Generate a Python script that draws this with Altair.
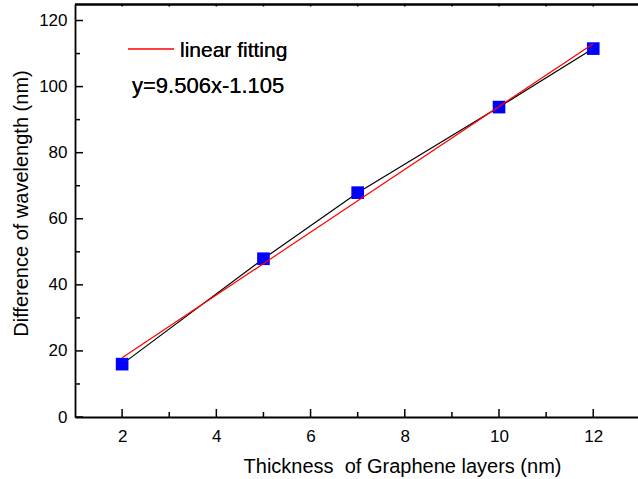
import altair as alt
import pandas as pd

# Data
thickness = [2, 5, 7, 10, 12]
difference = [16.0, 47.9, 67.9, 93.8, 111.5]
fit_x = [2, 12]
fit_y = [17.907, 112.967]
x_major = [2, 4, 6, 8, 10, 12]
x_minor = [3, 5, 7, 9, 11]
y_major = [0, 20, 40, 60, 80, 100, 120]
y_minor = [10, 30, 50, 70, 90, 110]
legend_label = "linear fitting"
equation = "y=9.506x-1.105"
x_title = "Thickness \u00a0of Graphene layers (nm)"
y_title = "Difference of wavelength (nm)"

W, H = 563, 413
FONT = "Liberation Sans"

df = pd.DataFrame({"x": thickness, "y": difference})
fit = pd.DataFrame({"x": fit_x, "y": fit_y})

xs = alt.Scale(domain=[1, 12.95], nice=False, zero=False)
ys = alt.Scale(domain=[0, 125], nice=False, zero=False)

common = dict(domainColor="black", tickColor="black", labelColor="black",
              labelFont=FONT, titleFont=FONT, grid=False)

main_axes = alt.Chart(df).mark_point(opacity=0).encode(
    x=alt.X("x:Q", scale=xs, axis=alt.Axis(
        orient="bottom", title=x_title, values=x_major,
        ticks=False, domainWidth=1.8, labelFontSize=17, labelPadding=11,
        titleFontSize=20, titleFontWeight="normal", titleColor="black",
        titleX=327, titleY=55, titleBaseline="alphabetic", titleAlign="center",
        labelFlush=False, **common)),
    y=alt.Y("y:Q", scale=ys, axis=alt.Axis(
        orient="left", title=y_title, values=y_major,
        ticks=False, domainWidth=1.8, labelFontSize=17, labelPadding=8,
        titleFontSize=20, titleFontWeight="normal", titleColor="black",
        titleX=-48, titleY=199, titleBaseline="alphabetic", titleAlign="center",
        labelFlush=False, **common)),
)


def xticks(values, y0, y1):
    return alt.Chart(pd.DataFrame({"v": values})).mark_rule(
        color="black", strokeWidth=1.5).encode(
        x=alt.X("v:Q", scale=xs, axis=None), y=alt.value(y0), y2=alt.value(y1))


def yticks(values, length):
    return alt.Chart(pd.DataFrame({"v": values})).mark_rule(
        color="black", strokeWidth=1.5).encode(
        y=alt.Y("v:Q", scale=ys, axis=None), x=alt.value(0), x2=alt.value(length))


bottom_major = xticks(x_major, H, H - 8)
bottom_minor = xticks(x_minor, H, H - 5)
top_ticks = xticks(x_major + x_minor, 0, 2.5)
left_major = yticks(y_major, 8)
left_minor = yticks(y_minor, 5)

top_frame = alt.Chart(fit).mark_rule(color="black", strokeWidth=1.8).encode(
    x=alt.value(0), x2=alt.value(W), y=alt.value(0.5)
)

black_line = alt.Chart(df).mark_line(color="black", strokeWidth=1.2).encode(
    x=alt.X("x:Q", scale=xs, axis=None),
    y=alt.Y("y:Q", scale=ys, axis=None),
)

squares = alt.Chart(df).mark_square(color="#0000FF", opacity=1, size=160).encode(
    x=alt.X("x:Q", scale=xs, axis=None),
    y=alt.Y("y:Q", scale=ys, axis=None),
)

red_line = alt.Chart(fit).mark_line(color="#FF0000", strokeWidth=1.2).encode(
    x=alt.X("x:Q", scale=xs, axis=None),
    y=alt.Y("y:Q", scale=ys, axis=None),
)

legend_rule = alt.Chart(fit).mark_rule(color="#FF0000", strokeWidth=1.2).encode(
    x=alt.value(53), x2=alt.value(99), y=alt.value(45)
)
legend_text = alt.Chart(fit).mark_text(
    align="left", baseline="alphabetic", font=FONT, fontSize=21, color="black"
).encode(x=alt.value(105), y=alt.value(53), text=alt.value(legend_label))
eq_text = alt.Chart(fit).mark_text(
    align="left", baseline="alphabetic", font=FONT, fontSize=22, color="black"
).encode(x=alt.value(57), y=alt.value(88.5), text=alt.value(equation))

chart = alt.layer(
    main_axes, bottom_major, bottom_minor, top_ticks, left_major, left_minor, top_frame,
    black_line, squares, red_line, legend_rule, legend_text, eq_text,
).resolve_axis(x="independent", y="independent").properties(
    width=W, height=H,
    autosize=alt.AutoSizeParams(type="none"),
    padding={"left": 75, "top": 4, "right": 0, "bottom": 62},
    background="white",
).configure_view(stroke=None)

chart.save("out.html", embed_options={"renderer": "svg", "actions": False})
